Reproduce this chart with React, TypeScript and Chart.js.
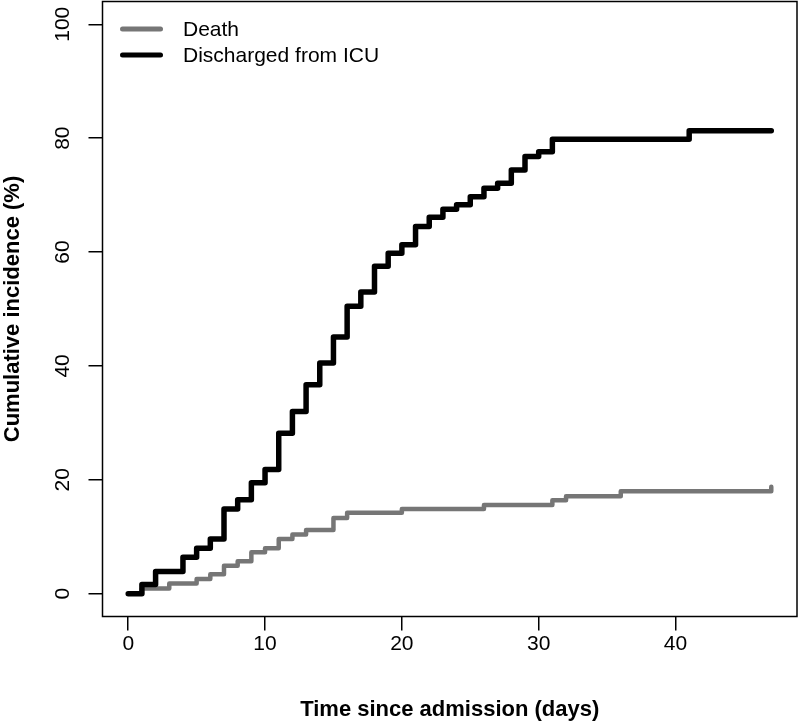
import { useEffect, useRef } from 'react';
import { Chart, registerables } from 'chart.js';

Chart.register(...registerables);

// Death curve (cumulative incidence, %)
const deathDays = [0, 1, 3, 5, 6, 7, 8, 9, 10, 11, 12, 13, 15, 16, 20, 26, 31, 32, 36, 47];
const deathPct = [0, 0.9, 1.8, 2.6, 3.4, 4.9, 5.7, 7.3, 8.0, 9.6, 10.4, 11.2, 13.3, 14.2, 14.9, 15.6, 16.4, 17.1, 18.0, 18.8];

// Discharged from ICU curve (cumulative incidence, %)
const dischargeDays = [0, 1, 2, 4, 5, 6, 7, 8, 9, 10, 11, 12, 13, 14, 15, 16, 17, 18, 19, 20, 21, 22, 23, 24, 25, 26, 27, 28, 29, 30, 31, 41, 47];
const dischargePct = [0, 1.6, 3.9, 6.4, 8.0, 9.6, 14.9, 16.5, 19.5, 21.8, 28.2, 32.0, 36.7, 40.5, 45.1, 50.5, 53.0, 57.5, 59.8, 61.3, 64.5, 66.1, 67.5, 68.3, 69.7, 71.2, 72.1, 74.4, 76.8, 77.6, 79.8, 81.3, 81.3];

const seriesLabels = ['Death', 'Discharged from ICU'];
const xTicks = [0, 10, 20, 30, 40];
const yTicks = [0, 20, 40, 60, 80, 100];
const xTitle = 'Time since admission (days)';
const yTitle = 'Cumulative incidence (%)';

const GREY = '#767676';
const BLACK = '#000000';
const FONT = "'Liberation Sans', Arial, Helvetica, sans-serif";

const boxPlugin = {
  id: 'boxPlugin',
  afterDraw(chart: any) {
    const { ctx, chartArea } = chart;
    ctx.save();
    ctx.strokeStyle = '#000';
    ctx.lineWidth = 1.5;
    ctx.strokeRect(chartArea.left, chartArea.top, chartArea.right - chartArea.left, chartArea.bottom - chartArea.top);
    ctx.restore();
  },
};

const legendPlugin = {
  id: 'insideLegend',
  afterDraw(chart: any) {
    const { ctx, chartArea } = chart;
    const datasets = chart.data.datasets;
    ctx.save();
    datasets.forEach((ds: any, i: number) => {
      const y = chartArea.top + 27.5 + i * 26;
      ctx.beginPath();
      ctx.strokeStyle = ds.borderColor;
      ctx.lineWidth = 5;
      ctx.lineCap = 'round';
      ctx.moveTo(chartArea.left + 20, y);
      ctx.lineTo(chartArea.left + 58, y);
      ctx.stroke();
      ctx.fillStyle = '#000';
      ctx.font = `21px ${FONT}`;
      ctx.textAlign = 'left';
      ctx.textBaseline = 'middle';
      ctx.fillText(ds.label, chartArea.left + 80.5, y + 1);
    });
    ctx.restore();
  },
};

export default function App() {
  const canvasRef = useRef<HTMLCanvasElement | null>(null);

  useEffect(() => {
    const canvas = canvasRef.current;
    if (!canvas) return;
    const chart = new Chart(canvas, {
      type: 'line',
      data: {
        datasets: [
          {
            label: seriesLabels[0],
            data: deathDays.map((d, i) => ({ x: d, y: deathPct[i] })),
            stepped: true,
            borderColor: GREY,
            backgroundColor: GREY,
            borderWidth: 4.5,
            borderCapStyle: 'round',
            borderJoinStyle: 'round',
            pointRadius: 0,
            fill: false,
            order: 1,
          },
          {
            label: seriesLabels[1],
            data: dischargeDays.map((d, i) => ({ x: d, y: dischargePct[i] })),
            stepped: true,
            borderColor: BLACK,
            backgroundColor: BLACK,
            borderWidth: 5.5,
            borderCapStyle: 'round',
            borderJoinStyle: 'round',
            pointRadius: 0,
            fill: false,
            order: 0,
          },
        ],
      },
      options: {
        animation: false,
        responsive: false,
        devicePixelRatio: 1,
        layout: { padding: { top: 1.5, right: 3, bottom: 0, left: 0 } },
        plugins: {
          legend: { display: false },
          tooltip: { enabled: false },
        },
        scales: {
          x: {
            type: 'linear',
            min: -1.88,
            max: 48.88,
            afterBuildTicks: (scale: any) => {
              scale.ticks = xTicks.map((v) => ({ value: v }));
            },
            afterFit: (scale: any) => {
              scale.height = 106.5;
              scale.paddingLeft = 0;
              scale.paddingRight = 0;
            },
            border: { display: false },
            grid: {
              drawOnChartArea: false,
              drawTicks: true,
              tickLength: 14,
              color: '#000',
              lineWidth: 1.5,
            },
            ticks: {
              color: '#000',
              font: { family: FONT, size: 21 },
              padding: 1,
              maxRotation: 0,
              minRotation: 0,
            },
            title: {
              display: true,
              text: xTitle,
              color: '#000',
              font: { family: FONT, size: 22, weight: 'bold' },
              padding: { top: 0, bottom: 0 },
            },
          },
          y: {
            type: 'linear',
            min: -4,
            max: 104,
            afterBuildTicks: (scale: any) => {
              scale.ticks = yTicks.map((v) => ({ value: v }));
            },
            afterFit: (scale: any) => {
              scale.width = 102.5;
              scale.paddingTop = 0;
              scale.paddingBottom = 0;
            },
            border: { display: false },
            grid: {
              drawOnChartArea: false,
              drawTicks: true,
              tickLength: 14,
              color: '#000',
              lineWidth: 1.5,
            },
            ticks: {
              color: '#000',
              font: { family: FONT, size: 21 },
              padding: 8,
              minRotation: 90,
              maxRotation: 90,
              crossAlign: 'center',
            },
            title: {
              display: true,
              text: yTitle,
              color: '#000',
              font: { family: FONT, size: 22, weight: 'bold' },
              padding: { top: 0, bottom: 0 },
            },
          },
        },
      },
      plugins: [boxPlugin, legendPlugin],
    } as any);
    return () => chart.destroy();
  }, []);

  return (
    <div style={{ position: 'fixed', left: 0, top: 0, width: 800, height: 723, background: '#fff' }}>
      <canvas ref={canvasRef} width={800} height={723} style={{ width: 800, height: 723, display: 'block' }} />
    </div>
  );
}
